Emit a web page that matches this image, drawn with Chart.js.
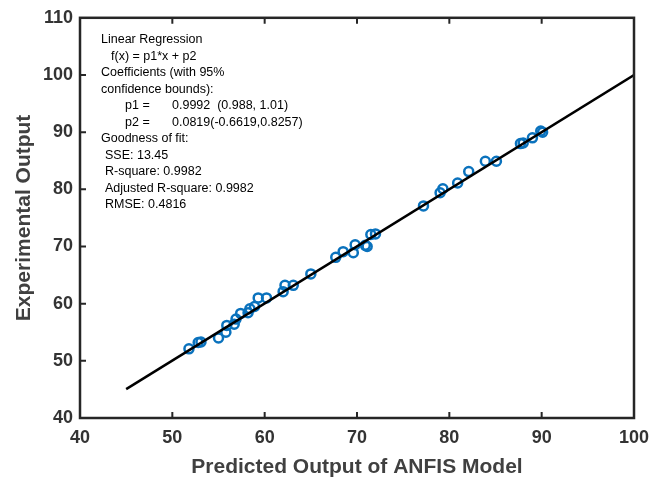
<!DOCTYPE html>
<html>
<head>
<meta charset="utf-8">
<script src="https://cdn.jsdelivr.net/npm/chart.js@4/dist/chart.umd.min.js"></script>
<style>
  body { margin: 0; background: #fff; }
  #wrap { width: 650px; height: 480px; }
</style>
</head>
<body>
<div id="wrap"><canvas id="chart" width="650" height="480"></canvas></div>
<script>
// predicted (x) vs experimental (y)
const predicted = [51.8, 52.8, 53.1, 55.0, 55.8, 55.9, 56.7, 56.9, 57.4, 58.2, 58.4, 58.9, 59.3, 60.2,
  62.0, 62.2, 63.1, 65.0, 67.7, 68.5, 69.6, 69.8, 70.9, 71.1, 71.5, 72.0,
  77.2, 79.0, 79.3, 80.9, 82.1, 83.9, 85.1, 87.7, 88.0, 89.0, 89.9, 90.1];
const experimental = [52.1, 53.2, 53.3, 54.0, 55.0, 56.2, 56.4, 57.3, 58.3, 58.4, 59.1, 59.5, 61.0, 61.0,
  62.1, 63.2, 63.2, 65.2, 68.1, 69.1, 68.9, 70.3, 70.2, 70.0, 72.1, 72.2,
  77.1, 79.4, 80.1, 81.1, 83.1, 84.9, 84.9, 88.0, 88.1, 89.0, 90.2, 90.0];
const fitX = [45, 100];
const fitY = [45.05, 100.0];
const xTicks = [40, 50, 60, 70, 80, 90, 100];
const yTicks = [40, 50, 60, 70, 80, 90, 100, 110];
const infoLines = [
  ["Linear Regression", 0],
  ["f(x) = p1*x + p2", 10],
  ["Coefficients (with 95%", 0],
  ["confidence bounds):", 0],
  ["p1 =", 24, "0.9992  (0.988, 1.01)"],
  ["p2 =", 24, "0.0819(-0.6619,0.8257)"],
  ["Goodness of fit:", 0],
  ["SSE: 13.45", 4],
  ["R-square: 0.9982", 4],
  ["Adjusted R-square: 0.9982", 4],
  ["RMSE: 0.4816", 4]
];

const points = predicted.map((x, i) => ({ x: x, y: experimental[i] }));
const fitLine = fitX.map((x, i) => ({ x: x, y: fitY[i] }));

const frame = {
  id: "frame",
  afterDatasetsDraw(chart) {
    const { ctx, chartArea: a, scales } = chart;
    ctx.save();
    ctx.strokeStyle = "#262626";
    ctx.lineWidth = 2;
    ctx.beginPath();
    for (const v of xTicks.slice(1, -1)) {
      const px = scales.x.getPixelForValue(v);
      ctx.moveTo(px, a.bottom); ctx.lineTo(px, a.bottom - 6);
      ctx.moveTo(px, a.top); ctx.lineTo(px, a.top + 6);
    }
    for (const v of yTicks.slice(1, -1)) {
      const py = scales.y.getPixelForValue(v);
      ctx.moveTo(a.left, py); ctx.lineTo(a.left + 6, py);
    }
    ctx.stroke();
    ctx.lineWidth = 2.5;
    ctx.strokeRect(a.left, a.top, a.right - a.left, a.bottom - a.top);

    // fit summary
    ctx.fillStyle = "#000";
    ctx.font = "12.5px 'Liberation Sans', Arial, sans-serif";
    ctx.textBaseline = "middle";
    let y = 40;
    for (const line of infoLines) {
      ctx.fillText(line[0], 101 + line[1], y);
      if (line[2]) ctx.fillText(line[2], 172, y);
      y += 16.5;
    }
    ctx.restore();
  }
};

new Chart(document.getElementById("chart"), {
  type: "scatter",
  data: {
    datasets: [
      {
        type: "line",
        data: fitLine,
        borderColor: "#000",
        borderWidth: 2.5,
        pointRadius: 0,
        fill: false,
        order: 0
      },
      {
        data: points,
        pointStyle: "circle",
        pointRadius: 4.5,
        borderWidth: 2.5,
        borderColor: "#0a72bd",
        backgroundColor: "rgba(0,0,0,0)",
        order: 1
      }
    ]
  },
  plugins: [frame],
  options: {
    responsive: false,
    animation: false,
    layout: { padding: { top: 15, right: 16, left: 12, bottom: 0 } },
    plugins: {
      legend: { display: false },
      tooltip: { enabled: false }
    },
    scales: {
      x: {
        min: 40,
        max: 100,
        afterBuildTicks: (scale) => { scale.ticks = xTicks.map((v) => ({ value: v })); },
        afterFit: (scale) => {
          scale.height = 62;
          scale.paddingRight = 0;
          scale.paddingLeft = 0;
        },
        grid: { display: false, drawTicks: false },
        border: { display: false },
        ticks: {
          padding: 9,
          color: "#333",
          font: { family: "'Liberation Sans', Arial", size: 18, weight: "bold" }
        },
        title: {
          display: true,
          text: "Predicted Output of ANFIS Model",
          color: "#404040",
          padding: { top: 2, bottom: 0 },
          font: { family: "'Liberation Sans', Arial", size: 21, weight: "bold" }
        }
      },
      y: {
        min: 40,
        max: 110,
        afterBuildTicks: (scale) => { scale.ticks = yTicks.map((v) => ({ value: v })); },
        afterFit: (scale) => { scale.width = 68; },
        grid: { display: false, drawTicks: false },
        border: { display: false },
        ticks: {
          padding: 7,
          color: "#333",
          font: { family: "'Liberation Sans', Arial", size: 18, weight: "bold" }
        },
        title: {
          display: true,
          text: "Experimental Output",
          color: "#404040",
          padding: { top: 0, bottom: 0 },
          font: { family: "'Liberation Sans', Arial", size: 21, weight: "bold" }
        }
      }
    }
  }
});
</script>
</body>
</html>
